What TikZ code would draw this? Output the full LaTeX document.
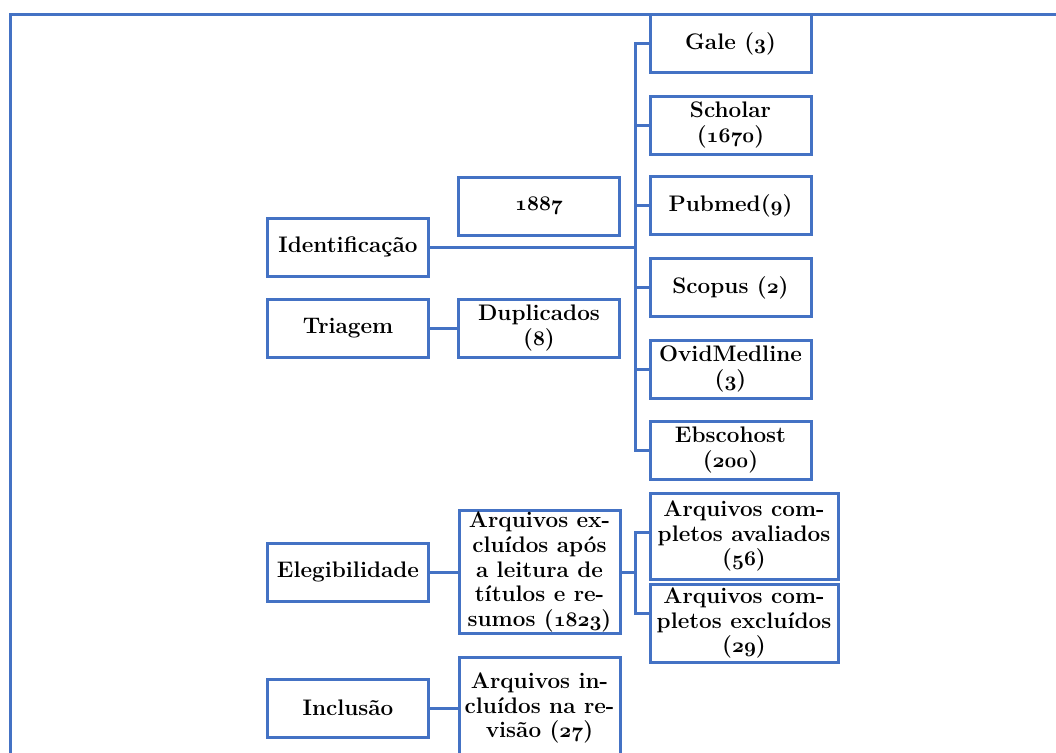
\documentclass[tikz,border=0pt]{standalone}
\definecolor{boxblue}{RGB}{68,114,196}
\newcommand{\osn}[1]{{\usefont{OML}{cmm}{b}{it}#1}}

\begin{document}
\begin{tikzpicture}[x=1pt, y=-1pt,
  box/.style={draw=boxblue, line width=3pt, fill=white, align=center,
    inner sep=0pt, minimum width=161pt, minimum height=58pt,
    font=\bfseries\fontsize{22.5}{24.6}\selectfont},
  link/.style={draw=boxblue, line width=3pt}]
  \useasboundingbox (0,0) rectangle (1056,752);
  \clip (0,0) rectangle (1056,752);

  % Outer frame
  \draw[link] (10,15) rectangle (1100,800);

  % Sources
  \node[box] (gale) at (730.5,43.5) {Gale (\osn{3})};
  \node[box] (scholar) at (730.5,125) {Scholar\\(\osn{1670})};
  \node[box] (pubmed) at (730.5,205.5) {Pubmed(\osn{9})};
  \node[box] (scopus) at (730.5,287.5) {Scopus (\osn{2})};
  \node[box] (ovid) at (730.5,369) {OvidMedline\\(\osn{3})};
  \node[box] (ebsco) at (730.5,450) {Ebscohost\\(\osn{200})};

  % Stages
  \node[box] (ident) at (348,247) {Identificação};
  \node[box] (triagem) at (348,328) {Triagem};
  \node[box] (eleg) at (348,572) {Elegibilidade};
  \node[box] (incl) at (348,708) {Inclusão};

  % Counts
  \node[box] (total) at (539,206) {\osn{1887}};
  \node[box] (dupl) at (539,328) {Duplicados\\(\osn{8})};
  \node[box, minimum height=123pt] (excl) at (539.5,572)
    {Arquivos ex-\\cluídos após\\a leitura de\\títulos e re-\\sumos (\osn{1823})};
  \node[box, minimum height=102pt] (incluidos) at (539.5,708)
    {Arquivos in-\\cluídos na re-\\visão (\osn{27})};
  \node[box, minimum width=188pt, minimum height=86pt] (aval) at (744,536)
    {Arquivos com-\\pletos avaliados\\(\osn{56})};
  \node[box, minimum width=188pt, minimum height=78pt] (excomp) at (744,623)
    {Arquivos com-\\pletos excluídos\\(\osn{29})};

  % Connectors
  \coordinate (trunk) at (635,247);
  \draw[link] (ident) -- (trunk);
  \draw[link] (gale.west) -| (trunk) |- (ebsco.west);
  \foreach \src in {scholar,pubmed,scopus,ovid}
    \draw[link] (trunk |- \src) -- (\src);
  \draw[link] (triagem) -- (dupl);
  \draw[link] (eleg) -- (excl);
  \coordinate (fork) at (635,572);
  \draw[link] (excl) -- (fork);
  \draw[link] ([yshift=4pt]aval.west) -| (fork) |- ([yshift=10pt]excomp.west);
  \draw[link] (incl) -- (incluidos);
\end{tikzpicture}
\end{document}
